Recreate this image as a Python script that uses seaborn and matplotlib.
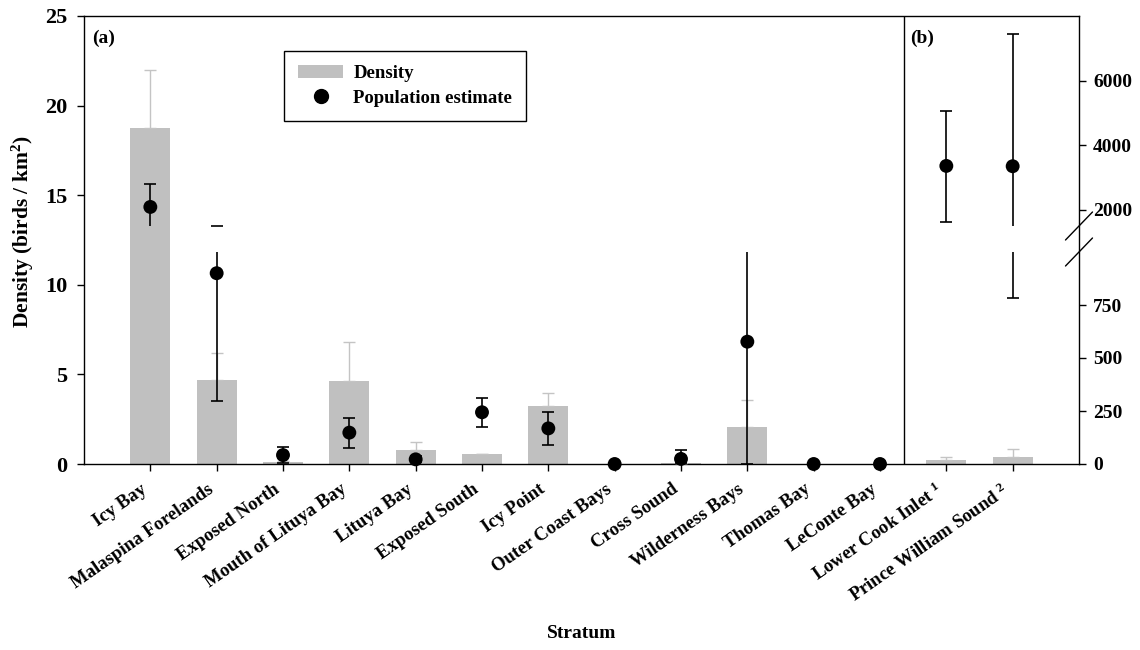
import numpy as np
import pandas as pd
import matplotlib
matplotlib.use("Agg")
import matplotlib.pyplot as plt
from matplotlib.lines import Line2D
from matplotlib.patches import Patch
import seaborn as sns

# ---- data -------------------------------------------------------------
strata = ["Icy Bay", "Malaspina Forelands", "Exposed North", "Mouth of Lituya Bay",
          "Lituya Bay", "Exposed South", "Icy Point", "Outer Coast Bays",
          "Cross Sound", "Wilderness Bays", "Thomas Bay", "LeConte Bay",
          "Lower Cook Inlet", "Prince William Sound"]
tick_labels = strata[:12] + [r"Lower Cook Inlet $^{\mathrm{1}}$",
                             r"Prince William Sound $^{\mathrm{2}}$"]

# density (birds / km^2) and upper standard error
density = [18.75, 4.69, 0.11, 4.63, 0.76, 0.54, 3.25, 0.0, 0.06, 2.06, 0.0, 0.0, 0.24, 0.39]
density_err = [3.25, 1.52, 0.04, 2.18, 0.48, 0.03, 0.71, 0.0, 0.02, 1.51, 0.0, 0.0, 0.13, 0.45]

# population estimate with lower / upper confidence limits
population = [2090, 900, 42, 148, 22, 244, 168, 0, 24, 577, 0, 0, 3360, 3350]
pop_lower = [1370, 297, 5, 77, 8, 176, 90, 0, 5, 0, 0, 0, 1633, 783]
pop_upper = [2812, 1510, 79, 218, 36, 310, 247, 0, 66, 1180, 0, 0, 5075, 7453]

# ---- style ------------------------------------------------------------
sns.set_theme(style="ticks")
plt.rcParams.update({
    "font.family": ["Liberation Serif", "DejaVu Serif"],
    "font.weight": "bold",
    "axes.labelweight": "bold",
    "mathtext.fontset": "custom",
    "mathtext.rm": "Liberation Serif",
    "mathtext.it": "Liberation Serif:italic",
    "mathtext.bf": "Liberation Serif:bold",
    "text.color": "black",
    "axes.labelcolor": "black",
    "axes.edgecolor": "black",
    "xtick.color": "black",
    "ytick.color": "black",
    "axes.linewidth": 1.0,
    "xtick.major.size": 5,
    "ytick.major.size": 5,
    "xtick.major.width": 1.0,
    "ytick.major.width": 1.0,
})

W_PX, H_PX = 1140, 650
fig = plt.figure(figsize=(W_PX / 100, H_PX / 100), dpi=100)

# main panel (density, left axis)
L, R, T, B = 84, 1079, 16, 464
ax = fig.add_axes([L / W_PX, 1 - B / H_PX, (R - L) / W_PX, (B - T) / H_PX])

x = np.arange(len(strata))
df = pd.DataFrame({"stratum": strata, "density": density})
sns.barplot(data=df, x="stratum", y="density", order=strata, color="#c0c0c0",
            saturation=1, width=0.6, linewidth=0, errorbar=None, ax=ax)

dens = np.array(density)
derr = np.array(density_err)
has = derr > 0
ax.errorbar(x[has], dens[has], yerr=[np.zeros(has.sum()), derr[has]], fmt="none",
            ecolor="#c4c4c4", elinewidth=1.0, capsize=4.5, capthick=1.0, zorder=3)

ax.set_xlim(-1, len(strata))
ax.set_ylim(0, 25)
ax.set_yticks(np.arange(0, 26, 5))
ax.set_xticks(x)
ax.set_xticklabels(tick_labels, rotation=35, ha="right", rotation_mode="default",
                   fontsize=13.5)
ax.tick_params(axis="x", pad=7)
ax.tick_params(axis="y", labelsize=16, pad=7)
ax.set_xlabel("Stratum", fontsize=14, va="center")
ax.xaxis.set_label_coords(0.5, -(633 - B) / (B - T))
ax.set_ylabel(r"Density (birds / km$^{\mathrm{2}}$)", fontsize=15.5, va="center")
ax.yaxis.set_label_coords(-(L - 23) / (R - L), (B - 232) / (B - T))
for s in ax.spines.values():
    s.set_visible(True)
    s.set_color("black")

# separator between the two panels
ax.axvline(11.36, color="black", lw=1.0, zorder=2)
ax.text(0.008, 0.951, "(a)", transform=ax.transAxes, fontsize=14, va="center")
ax.text(0.830, 0.951, "(b)", transform=ax.transAxes, fontsize=14, va="center")

# population estimate on a broken right-hand axis
lo_top, hi_bot = 252, 226
ax_lo = fig.add_axes([L / W_PX, 1 - B / H_PX, (R - L) / W_PX, (B - lo_top) / H_PX])
ax_hi = fig.add_axes([L / W_PX, 1 - hi_bot / H_PX, (R - L) / W_PX, (hi_bot - T) / H_PX])

pop = np.array(population, dtype=float)
plo = np.array(pop_lower, dtype=float)
pup = np.array(pop_upper, dtype=float)

segments = [(ax_lo, (0, 1000), [0, 250, 500, 750]),
            (ax_hi, (1500, 8000), [2000, 4000, 6000])]
for a, (y0, y1), ticks in segments:
    a.patch.set_visible(False)
    for s in a.spines.values():
        s.set_visible(False)
    a.errorbar(x, pop, yerr=[pop - plo, pup - pop], fmt="none", ecolor="black",
               elinewidth=1.2, capsize=4.5, capthick=1.2, zorder=3)
    m = (pop >= y0) & (pop <= y1)
    sns.scatterplot(x=x[m], y=pop[m], ax=a, color="black", s=100,
                    edgecolor="none", clip_on=False, zorder=5, legend=False)
    a.set_xlim(-1, len(strata))
    a.set_ylim(y0, y1)
    a.set_xticks([])
    a.set_xlabel("")
    a.yaxis.tick_right()
    a.set_yticks(ticks)
    a.tick_params(axis="y", direction="out", length=5, width=1.0, labelsize=14,
                  pad=5, left=False, labelleft=False)
    a.set_ylabel("")

# break marks on the right axis
dx = 13.5 / (R - L)
for a, yb, hpx in ((ax_hi, 0.0, hi_bot - T), (ax_lo, 1.0, B - lo_top)):
    dy = 14 / hpx
    a.plot([1 - dx, 1 + dx], [yb - dy, yb + dy], transform=a.transAxes,
           color="black", lw=1.0, clip_on=False)

# legend
handles = [Patch(facecolor="#c0c0c0", edgecolor="none", label="Density"),
           Line2D([], [], marker="o", color="black", ls="none", markersize=10,
                  label="Population estimate")]
leg = ax.legend(handles=handles, loc="upper left", bbox_to_anchor=(0.201, 0.922),
                borderaxespad=0, fontsize=13.5, frameon=True, fancybox=False,
                framealpha=1, edgecolor="black", borderpad=0.75, labelspacing=0.4,
                handlelength=2.4, handleheight=0.65, handletextpad=0.55)
leg.get_frame().set_linewidth(1.0)
leg.set_zorder(10)

fig.savefig("out.png", dpi=100)
